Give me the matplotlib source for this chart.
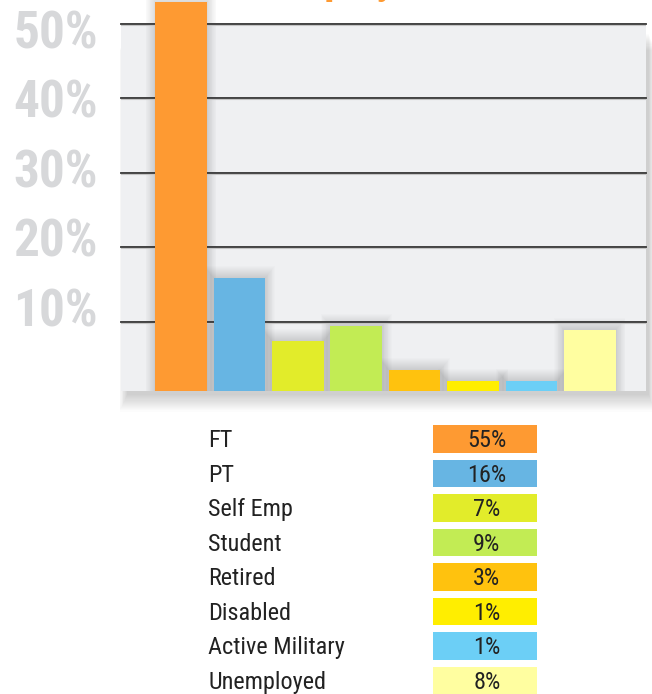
import matplotlib
matplotlib.use('Agg')
import matplotlib.pyplot as plt
from matplotlib import font_manager as fm
from matplotlib.patches import Rectangle

# data
categories = ['FT', 'PT', 'Self Emp', 'Student', 'Retired', 'Disabled', 'Active Military', 'Unemployed']
pct_labels = ['55%', '16%', '7%', '9%', '3%', '1%', '1%', '8%']
bar_heights = [52.9, 15.8, 7.4, 9.4, 3.5, 2.0, 2.0, 8.9]   # as drawn in the picture
colors = ['#fe9a32', '#67b5e3', '#e2ec2a', '#c2ec54', '#ffc20e', '#ffee00', '#6ccff6', '#fffea0']
yticks = [10, 20, 30, 40, 50]
ytick_labels = ['10%', '20%', '30%', '40%', '50%']

names = {f.name for f in fm.fontManager.ttflist}
narrow = 'DejaVu Sans'
for cand in ['Roboto Condensed', 'Barlow Condensed', 'Archivo Narrow']:
    if cand in names:
        narrow = cand
        break

W, H = 652, 694
fig = plt.figure(figsize=(W / 100, H / 100), dpi=100)

def fx(px): return px / W
def fy(py): return (H - py) / H

# main plot area (pixel layout)
ax_l, ax_r, ax_t, ax_b = 121, 645.7, 23.5, 391
y0 = 50 - (ax_b - ax_t) / 7.45
xlo, xhi = -1.027, 7.956
px_x = (xhi - xlo) / (ax_r - ax_l)
px_y = (50 - y0) / (ax_b - ax_t)

# soft drop shadow behind the plot area
for k in range(16):
    fig.add_artist(Rectangle((fx(ax_l + 6 - k * 0.5), fy(ax_b + 4 + k * 1.1)),
                             fx(ax_r - ax_l - 3 + k * 0.9), (ax_b - ax_t - 6) / H,
                             transform=fig.transFigure, facecolor='black',
                             alpha=0.013, edgecolor='none', zorder=0))

ax = fig.add_axes([fx(ax_l), fy(ax_b), fx(ax_r - ax_l), (ax_b - ax_t) / H])
ax.set_facecolor('#eff0f2')
ax.set_xlim(xlo, xhi)
ax.set_ylim(y0, 50)
for s in ax.spines.values():
    s.set_visible(False)
ax.set_xticks([])
ax.set_yticks([])

x = list(range(len(categories)))
bw = 0.885

# soft shadows around bars
for i, h in enumerate(bar_heights):
    for j in range(1, 13):
        ax.add_patch(Rectangle((x[i] - bw / 2 - j * px_x * 0.8, y0),
                               bw + 2 * j * px_x * 0.8, h - y0 + j * px_y * 1.0,
                               facecolor='black', alpha=0.011, edgecolor='none',
                               zorder=1, clip_on=(i != 0)))

# gridlines
for v in yticks:
    ax.axhline(v, color='#333333', lw=1.3, zorder=2, clip_on=False)
    ax.axhline(v - 1.3 * px_y, color='#c4c4c4', lw=0.8, zorder=2)

bars = ax.bar(x, [h - y0 for h in bar_heights], bottom=y0, width=bw,
              color=colors, zorder=3)
for b in bars:
    b.set_clip_on(False)

# big grey tick labels (evenly spaced, independent of gridlines)
for i, lab in enumerate(ytick_labels[::-1]):
    fig.text(fx(98), fy(34.5 + 69.4 * i), lab, ha='right', va='center',
             family=narrow, weight='bold', fontsize=37, color='#d7d8da')

# partial orange title cut by the top edge
fig.text(fx(274), fy(-6.5), 'Employment', ha='left', va='baseline',
         family=narrow, weight='bold', fontsize=30, color='#fe9a32')

# legend table
lg = fig.add_axes([0, 0, 1, fy(400)])
row0, pitch = 438.85, 34.5
lg.set_xlim(0, W)
lg.set_ylim((H - row0) / pitch, (400 - row0) / pitch)
lg.axis('off')
lg.barh(x, [104.3] * len(x), left=432.7, height=27.7 / pitch, color=colors)
for i, (c, p) in enumerate(zip(categories, pct_labels)):
    lg.text(208.3, i + 0.24, c, ha='left', va='baseline', family=narrow,
            fontsize=17.5, color='#222222')
    lg.text(432.7 + 104.3 / 2 + 2, i + 0.24, p, ha='center', va='baseline',
            family=narrow, fontsize=17.5, color='#222222')

fig.savefig('out.png', dpi=100)
